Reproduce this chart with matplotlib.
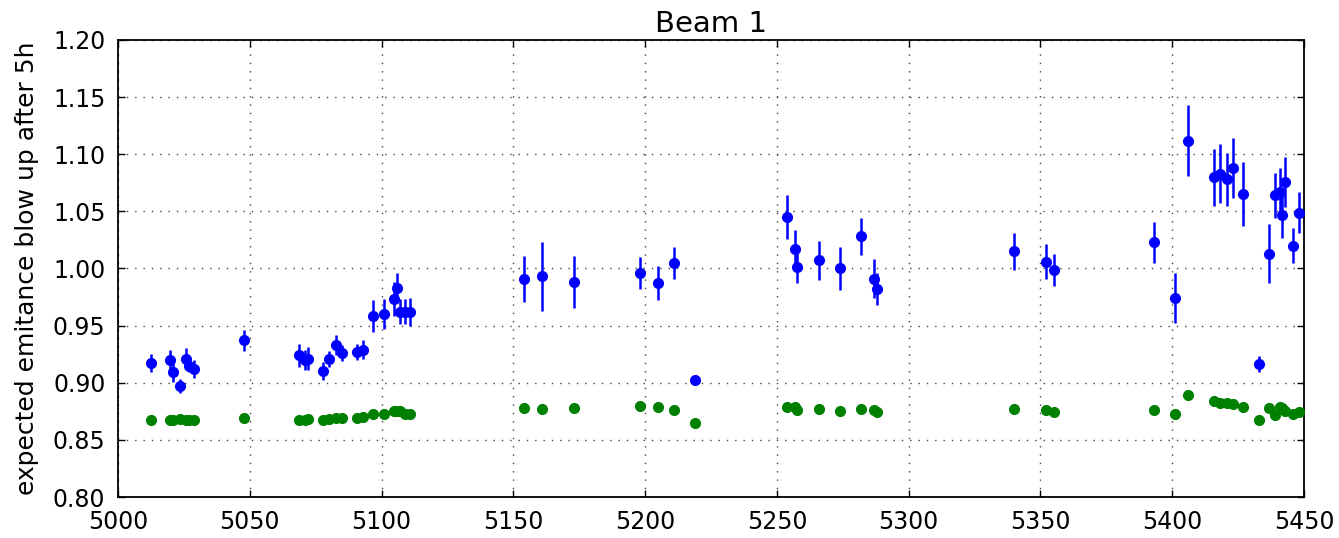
import matplotlib
matplotlib.use("Agg")
import matplotlib.pyplot as plt

# Fill number of each measurement
fill = [5012.5, 5019.7, 5020.9, 5023.6, 5025.8, 5026.9, 5028.9, 5047.9,
        5068.8, 5070.8, 5072.1, 5077.9, 5079.9, 5082.9, 5085.1, 5090.8,
        5093.1, 5096.9, 5100.9, 5104.8, 5105.8, 5107.0, 5108.9, 5110.8,
        5153.9, 5160.9, 5173.0, 5198.0, 5205.0, 5210.8, 5218.9,
        5253.8, 5256.9, 5257.8, 5266.0, 5273.9, 5282.0, 5286.8, 5287.8,
        5340.0, 5352.0, 5355.0,
        5392.9, 5401.0, 5405.9, 5416.0, 5418.0, 5420.8, 5422.9, 5426.9,
        5433.0, 5436.8, 5438.8, 5440.8, 5441.8, 5442.8, 5445.9, 5448.0]

# Measured emittance blow-up after 5h, with uncertainty
measured = [0.917, 0.920, 0.909, 0.897, 0.921, 0.915, 0.912, 0.937,
            0.924, 0.920, 0.921, 0.910, 0.921, 0.933, 0.926, 0.927,
            0.929, 0.958, 0.960, 0.973, 0.983, 0.962, 0.962, 0.962,
            0.991, 0.993, 0.988, 0.996, 0.987, 1.005, 0.902,
            1.045, 1.017, 1.001, 1.007, 1.000, 1.028, 0.991, 0.982,
            1.015, 1.006, 0.999,
            1.023, 0.974, 1.112, 1.080, 1.083, 1.078, 1.088, 1.065,
            0.916, 1.013, 1.064, 1.067, 1.047, 1.076, 1.020, 1.049]
measured_err = [0.008, 0.009, 0.008, 0.006, 0.009, 0.006, 0.008, 0.009,
                0.010, 0.009, 0.010, 0.008, 0.007, 0.009, 0.007, 0.007,
                0.008, 0.014, 0.013, 0.015, 0.013, 0.011, 0.011, 0.012,
                0.020, 0.030, 0.023, 0.014, 0.015, 0.014, 0.004,
                0.019, 0.017, 0.014, 0.017, 0.019, 0.016, 0.017, 0.014,
                0.016, 0.015, 0.014,
                0.018, 0.022, 0.031, 0.025, 0.026, 0.023, 0.026, 0.028,
                0.007, 0.026, 0.020, 0.021, 0.020, 0.022, 0.015, 0.018]

# Expected blow-up from the model
model = [0.867, 0.867, 0.867, 0.868, 0.867, 0.867, 0.867, 0.869,
         0.867, 0.867, 0.868, 0.867, 0.868, 0.869, 0.869, 0.869,
         0.870, 0.873, 0.873, 0.875, 0.875, 0.875, 0.873, 0.873,
         0.878, 0.877, 0.878, 0.880, 0.879, 0.876, 0.865,
         0.879, 0.879, 0.876, 0.877, 0.875, 0.877, 0.876, 0.874,
         0.877, 0.876, 0.874,
         0.876, 0.873, 0.889, 0.884, 0.882, 0.882, 0.881, 0.879,
         0.867, 0.878, 0.872, 0.879, 0.878, 0.875, 0.873, 0.874]

x_ticks = [5000, 5050, 5100, 5150, 5200, 5250, 5300, 5350, 5400, 5450]
y_ticks = [0.80, 0.85, 0.90, 0.95, 1.00, 1.05, 1.10, 1.15, 1.20]

plt.rcParams["font.family"] = ["DejaVu Sans"]
fig = plt.figure(figsize=(13.39, 5.38), dpi=100)
ax = fig.add_axes([0.0881, 0.0762, 0.8858, 0.8495])

ax.errorbar(fill, measured, yerr=measured_err, fmt="o", color="blue",
            markersize=7, elinewidth=1.8, capsize=0, zorder=3)
ax.plot(fill, model, "o", color="green", markersize=7, zorder=3)

ax.set_xlim(5000, 5450)
ax.set_ylim(0.80, 1.20)
ax.set_xticks(x_ticks)
ax.set_yticks(y_ticks)
ax.set_yticklabels([f"{v:.2f}" for v in y_ticks])
ax.tick_params(direction="in", length=5, width=1, top=True, right=True,
               labelsize=17, pad=9)
for s in ax.spines.values():
    s.set_linewidth(1.3)
ax.grid(True, color="#444444", linestyle=(0, (1, 5)), linewidth=1)
ax.set_axisbelow(True)

ax.set_title("Beam 1", fontsize=21, pad=6)
ax.set_ylabel("expected emitance blow up after 5h", fontsize=18, labelpad=10)

fig.savefig("out.png", dpi=100)
